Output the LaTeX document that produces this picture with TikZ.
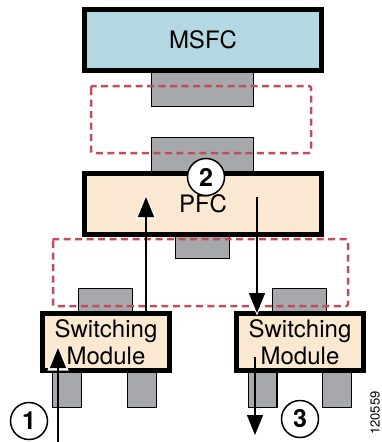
\documentclass[tikz,border=0pt]{standalone}
\usepackage{fontspec}
\setmainfont{TeX Gyre Heros}
\usetikzlibrary{arrows.meta}
\definecolor{msfcblue}{HTML}{B3D8E2}
\definecolor{pfcbeige}{HTML}{FAE8D0}
\definecolor{pluggray}{HTML}{A6A8AB}
\definecolor{zonered}{HTML}{C24D58}

\begin{document}
\begin{tikzpicture}
  [x=1pt, y=-1pt,
   card/.style={draw=black, line width=5pt, inner sep=0pt,
     font=\fontsize{24}{27}\selectfont, align=center},
   plug/.style={draw=black, fill=pluggray, line width=1.2pt, inner sep=0pt},
   zone/.style={draw=zonered, line width=2.5pt, rounded corners=2pt,
     dash pattern=on 7pt off 4.5pt},
   flow/.style={line width=1.3pt, -{Triangle[width=16pt,length=20pt]},
     preaction={draw=white, line width=1.3pt, shorten >=-2.5pt,
       -{Triangle[width=21pt,length=25pt]}}},
   num/.style={circle, draw, fill=white, line width=1.5pt, minimum size=37pt,
     inner sep=0pt, font=\fontsize{25}{25}\selectfont\bfseries}]
\useasboundingbox (0,0) rectangle (382,442);

% plugs behind the cards
\node[plug, minimum width=101.8pt, minimum height=33.8pt] (msfcplug) at (202.5,89.5) {};
\node[plug, minimum width=101.8pt, minimum height=36.8pt] (pfcplugtop) at (202.5,156) {};
\node[plug, minimum width=53.8pt, minimum height=22.8pt] (pfcplug) at (202.5,247) {};
\node[plug, minimum width=53.8pt, minimum height=23.8pt] (swlplug) at (105.5,300.5) {};
\node[plug, minimum width=53.8pt, minimum height=23.8pt] (swrplug) at (299.5,300.5) {};
\node[plug, minimum width=28.8pt, minimum height=36.8pt] (swlleg1) at (67,389) {};
\node[plug, minimum width=28.8pt, minimum height=36.8pt] (swlleg2) at (142,389) {};
\node[plug, minimum width=28.8pt, minimum height=36.8pt] (swrleg1) at (262.5,389) {};
\node[plug, minimum width=28.8pt, minimum height=36.8pt] (swrleg2) at (337,389) {};

% cards
\node[card, fill=msfcblue, minimum width=237pt, minimum height=61pt] (msfc) at (203,40) {MSFC};
\node[card, fill=pfcbeige, minimum width=237pt, minimum height=61pt] (pfc) at (203,204) {PFC};
\node[card, fill=pfcbeige, minimum width=127pt, minimum height=57pt] (swl) at (106,342) {Switching\\Module};
\node[card, fill=pfcbeige, minimum width=127pt, minimum height=57pt] (swr) at (300,342) {Switching\\Module};

% dashed zones
\draw[zone] (91,86) rectangle (311,153);
\draw[zone] (53,239) rectangle (348,306);

% packet path
\coordinate (inport) at (58,442);
\coordinate (swltip) at (58,348);
\coordinate (pfcin) at (146,197);
\coordinate (pfcout) at (257,197);
\coordinate (swrin) at (257,313);
\coordinate (swrout) at (255,357);
\coordinate (outport) at (255,435);
\draw[flow] (inport) -- (swltip);
\draw[flow] (swl.north -| pfcin) -- (pfcin);
\draw[flow] (pfcout) -- (swrin);
\draw[flow] (swrout) -- (outport);

% steps
\node[num] (n1) at (29,421) {1};
\node[num] (n2) at (206,177) {2};
\node[num] (n3) at (300,419) {3};

\node[rotate=90, inner sep=0pt, font=\fontsize{13}{13}\selectfont] (figid) at (375,413) {120559};
\end{tikzpicture}
\end{document}
